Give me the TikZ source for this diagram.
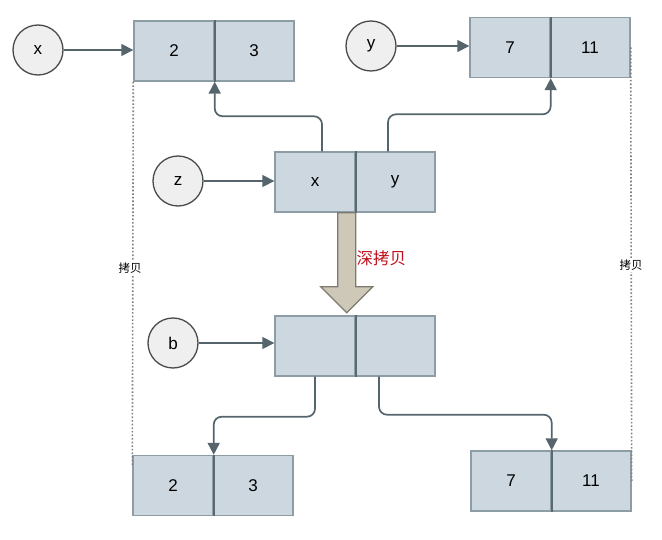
\documentclass[tikz,border=0pt]{standalone}
\usepackage{fontspec}
\setmainfont{Liberation Sans}
\newfontfamily\cjk{Noto Sans CJK SC}
\usetikzlibrary{arrows.meta}
\definecolor{boxfill}{HTML}{CCD7DF}
\definecolor{boxline}{HTML}{8C9DA6}
\definecolor{divline}{HTML}{5A6970}
\definecolor{linkc}{HTML}{56656C}
\definecolor{circfill}{HTML}{EFEFEF}
\definecolor{circline}{HTML}{4A4A4A}
\definecolor{bigfill}{HTML}{CEC8B9}
\definecolor{bigline}{HTML}{7E7A70}
\definecolor{redtxt}{HTML}{C0101A}
\begin{document}
\begin{tikzpicture}[x=1pt,y=-1pt,
  cell/.style={draw=boxline, fill=boxfill, minimum width=80pt, minimum height=60pt, inner sep=0pt, line width=1.4pt, font=\fontsize{17}{19}\selectfont},
  var/.style={circle, draw=circline, fill=circfill, minimum size=50pt, inner sep=0pt, line width=1.3pt, font=\fontsize{17}{19}\selectfont},
  link/.style={draw=linkc, line width=1.7pt, rounded corners=8pt, -{Triangle[length=12pt,width=12pt]}},
  divider/.style={draw=divline, line width=1.6pt},
  copyline/.style={draw=black!50, dotted, line width=1.6pt},
  copylabel/.style={fill=white, inner sep=1.5pt, font=\cjk\fontsize{11.5}{13}\selectfont}
]
\useasboundingbox (0,0) rectangle (662,540);
% cells
\node[cell] (a1) at (174,51) {2};
\node[cell] (a2) at (254,51) {3};
\node[cell] (c1) at (510,47.5) {7};
\node[cell] (c2) at (590,47.5) {11};
\node[cell] (z1) at (315,182) {x};
\node[cell] (z2) at (395,182) {y};
\node[cell] (b1) at (315,346) {};
\node[cell] (b2) at (395,346) {};
\node[cell] (d1) at (173,485.5) {2};
\node[cell] (d2) at (253,485.5) {3};
\node[cell] (e1) at (511,481) {7};
\node[cell] (e2) at (591,481) {11};
\foreach \n in {a,c,z,b,d,e}{\draw[divider] (\n1.north east) -- (\n1.south east);}
% variables
\node[var] (xv) at (38,50) {x};
\node[var] (yv) at (371,46) {y};
\node[var] (zv) at (178,181) {z};
\node[var] (bv) at (173,343) {b};
\draw[link] (xv.east) -- (xv.east -| a1.west);
\draw[link] (yv.east) -- (yv.east -| c1.west);
\draw[link] (zv.east) -- (zv.east -| z1.west);
\draw[link] (bv.east) -- (bv.east -| b1.west);
% pointers
\draw[link] ([xshift=7pt]z1.north) -- ++(0,-35) -| (a1.south east);
\draw[link] ([xshift=-7pt]z2.north) -- ++(0,-37) -| (c1.south east);
\draw[link] (b1.south) -- ++(0,40) -| (d1.north east);
\draw[link] ([xshift=-16pt]b2.south) -- ++(0,38) -| (e1.north east);
% big arrow
\draw[fill=bigfill, draw=bigline, line width=1.2pt]
  ([xshift=-18pt]z1.south east) -- ++(0,74) -- ++(-17,0) -- ++(26,26) -- ++(26,-26) -- ++(-17,0) -- (z1.south east) -- cycle;
\node[text=redtxt, font=\cjk\fontsize{16.5}{18}\selectfont, anchor=west] (deep) at (353,258) {深拷贝};
% copy lines
\draw[copyline] (a1.south west) -- ([yshift=-10pt]d1.north west);
\draw[copyline] (c2.east) -- (e2.east);
\node[copylabel] (lc) at (130,268) {拷贝};
\node[copylabel] (rc) at (631,265) {拷贝};
\end{tikzpicture}
\end{document}
